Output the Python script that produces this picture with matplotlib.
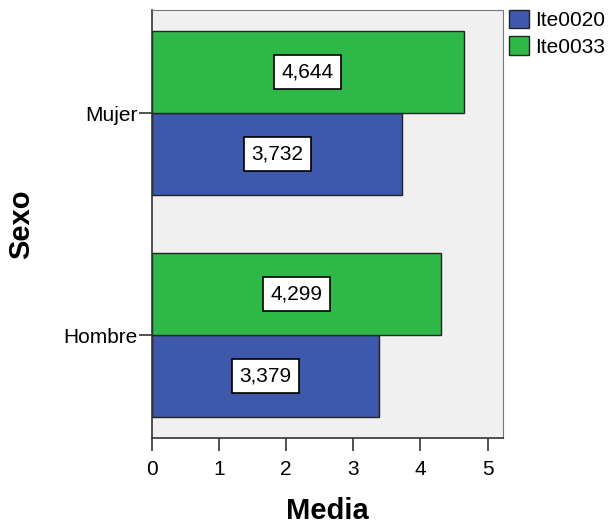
import numpy as np
import matplotlib
matplotlib.use('Agg')
import matplotlib.pyplot as plt
from matplotlib.patches import Patch

# data
categories = ['Hombre', 'Mujer']
ite0020 = [3.379, 3.732]
ite0033 = [4.299, 4.644]
series_names = ['Ite0020', 'Ite0033']
labels_0020 = ['3,379', '3,732']
labels_0033 = ['4,299', '4,644']

plt.rcParams['font.family'] = ['Liberation Sans', 'DejaVu Sans']

blue = '#3e58ac'
green = '#2eb848'

fig = plt.figure(figsize=(6.1, 5.31), dpi=100)
ax = fig.add_axes([0.249, 0.175, 0.5756, 0.806])
ax.set_facecolor('#f0f0f0')

y = np.arange(len(categories))
h = 0.37
ax.barh(y - h / 2, ite0020, height=h, color=blue, edgecolor='#222222', linewidth=1)
ax.barh(y + h / 2, ite0033, height=h, color=green, edgecolor='#222222', linewidth=1)

# value boxes in the middle of each bar
box = dict(boxstyle='square,pad=0.36', facecolor='white', edgecolor='black', linewidth=1.2)
for i in range(len(categories)):
    ax.text(ite0020[i] / 2, y[i] - h / 2, labels_0020[i], ha='center', va='center',
            fontsize=15, bbox=box)
    ax.text(ite0033[i] / 2, y[i] + h / 2, labels_0033[i], ha='center', va='center',
            fontsize=15, bbox=box)

ax.set_xlim(0, 5.23)
ax.set_ylim(-0.464, 1.464)
ax.set_xticks([0, 1, 2, 3, 4, 5])
ax.set_yticks(y)
ax.set_yticklabels(categories)
ax.tick_params(axis='both', labelsize=15, length=9.5, width=1.2, color='#333333')
ax.tick_params(axis='x', pad=6)
ax.tick_params(axis='y', pad=1)
for s in ['top', 'right']:
    ax.spines[s].set_color('#777777')
for s in ['left', 'bottom']:
    ax.spines[s].set_color('#333333')
    ax.spines[s].set_linewidth(1.2)

ax.set_xlabel('Media', fontsize=21, fontweight='bold', labelpad=13)
ax.set_ylabel('Sexo', fontsize=21, fontweight='bold', labelpad=20)

handles = [Patch(facecolor=blue, edgecolor='#222222'), Patch(facecolor=green, edgecolor='#222222')]
fig.legend(handles, series_names, loc='upper left', bbox_to_anchor=(0.834, 0.982),
           frameon=False, fontsize=15, handlelength=0.96, handleheight=1.0,
           handletextpad=0.3, labelspacing=0.3, borderaxespad=0, borderpad=0)

fig.savefig('out.png', dpi=100)
